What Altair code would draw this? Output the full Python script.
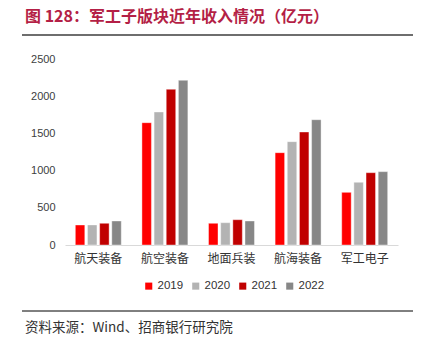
import altair as alt
import pandas as pd

categories = ["航天装备", "航空装备", "地面兵装", "航海装备", "军工电子"]
years = ["2019", "2020", "2021", "2022"]
v2019 = [269, 1644, 292, 1241, 708]
v2020 = [270, 1788, 300, 1389, 843]
v2021 = [292, 2093, 340, 1519, 972]
v2022 = [323, 2214, 323, 1684, 986]
y_ticks = [0, 500, 1000, 1500, 2000, 2500]
colors = ["#FF0000", "#B3B3B3", "#C00000", "#878787"]

title_text = "图 128：军工子版块近年收入情况（亿元）"
source_text = "资料来源：Wind、招商银行研究院"

rows = []
for yr, vals in zip(years, [v2019, v2020, v2021, v2022]):
    for c, v in zip(categories, vals):
        rows.append({"类别": c, "年份": yr, "收入": v})
df = pd.DataFrame(rows)

FONT = "Noto Sans CJK SC"

bars = alt.Chart(df).mark_bar(stroke="#ffffff", strokeWidth=0.4).encode(
    x=alt.X("类别:N", sort=categories,
            scale=alt.Scale(paddingInner=0.31, paddingOuter=0.155),
            axis=alt.Axis(title=None, labelAngle=0, domainColor="#D9D9D9", ticks=False, grid=False,
                          labelFontSize=12, labelPadding=8, labelColor="#333333", labelFont=FONT)),
    xOffset=alt.XOffset("年份:N", sort=years, scale=alt.Scale(paddingInner=0.22)),
    y=alt.Y("收入:Q", scale=alt.Scale(domain=[0, 2500]),
            axis=alt.Axis(values=y_ticks, format="d", grid=False, domain=False,
                          ticks=False, labelPadding=10,
                          title=None, labelFontSize=11, labelColor="#404040", labelFont="Liberation Sans")),
    color=alt.Color("年份:N", scale=alt.Scale(domain=years, range=colors),
                    legend=alt.Legend(orient="none", legendX=78, legendY=221, direction="horizontal",
                                      title=None, symbolType="square", symbolSize=50, labelFontSize=11.5,
                                      labelFont="Liberation Sans", labelColor="#333333",
                                      columnPadding=6, symbolStrokeWidth=0, labelOffset=3)),
)

one = pd.DataFrame({"k": [0]})

# white cover over the stray vertical edge line at the plot's left side
cover = alt.Chart(one).mark_rule(color="#ffffff", strokeWidth=3).encode(
    x=alt.value(0), x2=alt.value(0), y=alt.value(-16), y2=alt.value(185))
title = alt.Chart(one).mark_text(align="left", baseline="middle", fontSize=16, fontWeight="bold",
                                 color="#B41F46", font=FONT).encode(
    x=alt.value(-40), y=alt.value(-42), text=alt.value(title_text))
top_rule = alt.Chart(one).mark_rule(color="#6E6E6E", strokeWidth=2).encode(
    x=alt.value(-43), x2=alt.value(348), y=alt.value(-24), y2=alt.value(-24))
bottom_rule = alt.Chart(one).mark_rule(color="#000000", strokeWidth=1).encode(
    x=alt.value(-43), x2=alt.value(348), y=alt.value(252), y2=alt.value(252))
source = alt.Chart(one).mark_text(align="left", baseline="middle", fontSize=13.5,
                                  color="#333333", font=FONT).encode(
    x=alt.value(-40), y=alt.value(269), text=alt.value(source_text))

chart = alt.layer(bars, cover, title, top_rule, bottom_rule, source).properties(
    width=333, height=186,
    autosize=alt.AutoSizeParams(type="none"),
    padding={"left": 65, "top": 59, "right": 27, "bottom": 108},
    background="#ffffff",
).configure_view(strokeWidth=0, stroke="transparent").configure_axis(grid=False).configure_axisY(domain=False)

chart.save("out.html", embed_options={"renderer": "svg", "actions": False})
